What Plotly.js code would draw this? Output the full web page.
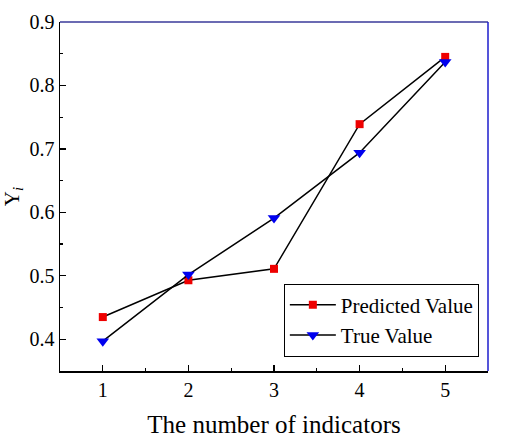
<!DOCTYPE html>
<html>
<head>
<meta charset="utf-8">
<script src="https://cdn.plot.ly/plotly-3.0.1.min.js"></script>
<style>html,body{margin:0;padding:0;background:#fff;}#chart{width:505px;height:441px;}</style>
</head>
<body>
<div id="chart"></div>
<script>
const indicators = [1, 2, 3, 4, 5];
const predictedValue = [0.435, 0.493, 0.511, 0.739, 0.845];
const trueValue = [0.397, 0.502, 0.591, 0.694, 0.837];
const seriesNames = ['Predicted Value', 'True Value'];
const xTitle = 'The number of indicators';
const yTitle = 'Y<sub><i>i</i></sub>';

const font = 'Liberation Serif';

const traces = [
  {
    x: indicators, y: predictedValue, name: seriesNames[0],
    type: 'scatter', mode: 'lines+markers',
    line: {color: '#000000', width: 1.5},
    marker: {symbol: 'square', size: 8, color: '#ee0000'}
  },
  {
    x: indicators, y: trueValue, name: seriesNames[1],
    type: 'scatter', mode: 'lines+markers',
    line: {color: '#000000', width: 1.5},
    marker: {symbol: 'triangle-down', size: 11, color: '#0000ee'}
  }
];

const layout = {
  width: 505, height: 441,
  margin: {l: 60, r: 17, t: 22, b: 70},
  paper_bgcolor: '#ffffff', plot_bgcolor: '#ffffff',
  font: {family: font, size: 20, color: '#000'},
  showlegend: true,
  legend: {
    x: 0.523, y: 0.146, xanchor: 'left', yanchor: 'middle',
    bordercolor: '#000', borderwidth: 1, bgcolor: '#fff',
    font: {family: font, size: 21, color: '#000'},
    itemwidth: 46,
    tracegroupgap: 0
  },
  xaxis: {
    range: [0.5, 5.5], tickvals: indicators, ticktext: indicators.map(String),
    ticks: 'inside', ticklen: 6, tickwidth: 1.2, tickcolor: '#000',
    minor: {dtick: 0.5, ticks: 'inside', ticklen: 3, tickcolor: '#000', showgrid: false},
    showline: true, linecolor: '#000', linewidth: 1.5, showgrid: false, zeroline: false,
    tickfont: {family: font, size: 20, color: '#000'},
    title: {text: xTitle, font: {family: font, size: 25, color: '#000'}, standoff: 16}
  },
  yaxis: {
    range: [0.35, 0.9], dtick: 0.1, tick0: 0.4, tickformat: '.1f',
    ticks: 'inside', ticklen: 6, tickwidth: 1.2, tickcolor: '#000',
    minor: {dtick: 0.05, ticks: 'inside', ticklen: 3, tickcolor: '#000', showgrid: false},
    showline: true, linecolor: '#000', linewidth: 1.5, showgrid: false, zeroline: false,
    tickfont: {family: font, size: 20, color: '#000'},
    title: {text: yTitle, font: {family: font, size: 21, color: '#000'}, standoff: 6}
  },
  shapes: [
    {type: 'line', xref: 'paper', yref: 'paper', x0: 0, x1: 1, y0: 1, y1: 1, line: {color: '#3a3a9a', width: 1.5}},
    {type: 'line', xref: 'paper', yref: 'paper', x0: 1, x1: 1, y0: 0, y1: 1, line: {color: '#1c1ccc', width: 1.5}}
  ]
};

Plotly.newPlot('chart', traces, layout, {displayModeBar: false, staticPlot: true});
</script>
</body>
</html>
